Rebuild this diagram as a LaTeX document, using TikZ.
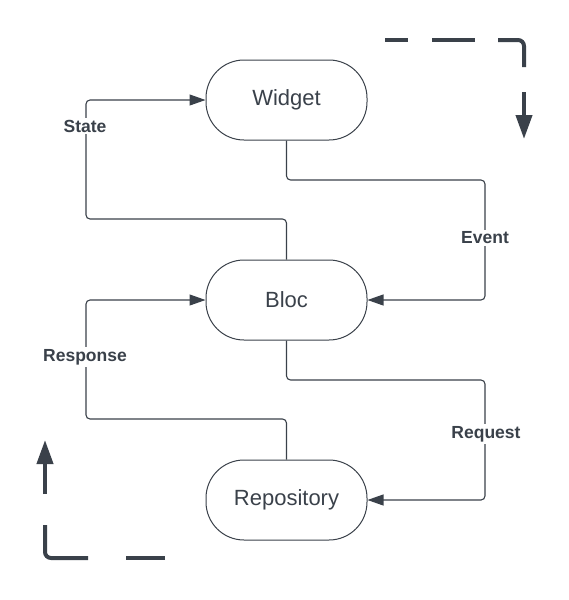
\documentclass[tikz,border=0pt]{standalone}
\usepackage{fontspec}
\setmainfont{Liberation Sans}
\usetikzlibrary{arrows.meta}
\definecolor{ink}{HTML}{3A414A}
\begin{document}
\begin{tikzpicture}[x=1pt,y=-1pt,
  box/.style={draw=ink, line width=1pt, rounded corners=38pt, minimum width=161pt, minimum height=80pt, text=ink, font=\fontsize{22}{26}\selectfont, inner sep=0pt},
  link/.style={draw=ink, line width=1.1pt, rounded corners=4pt, -{Triangle[length=16pt,width=11pt]}},
  lbl/.style={fill=white, text=ink, font=\bfseries\fontsize{17.5}{21}\selectfont, inner sep=2pt},
  deco/.style={draw=ink, line width=4pt},
  decoarrow/.style={deco, -{Triangle[length=24pt,width=16pt]}},
]
\useasboundingbox (0,0) rectangle (569,600);

\node[box] (w) at (286.5,100) {Widget};
\node[box] (b) at (286.5,300) {Bloc};
\node[box] (r) at (286.5,500) {Repository};

\coordinate (s1) at (86,219);
\coordinate (e1) at (485,180);
\coordinate (p1) at (86,419);
\coordinate (q1) at (485,380);

\draw[link] (b.north) |- (s1) |- (w.west);
\draw[link] (w.south) |- (e1) |- (b.east);
\draw[link] (r.north) |- (p1) |- (b.west);
\draw[link] (b.south) |- (q1) |- (r.east);

\node[lbl] (ls) at (85,126) {State};
\node[lbl] (le) at (485,238) {Event};
\node[lbl] (lp) at (85,357) {Response};
\node[lbl] (lq) at (486,434) {Request};

% decorative flow arrows
\draw[deco] (385,40) -- (408,40);
\draw[deco] (432,40) -- (475,40);
\draw[deco, rounded corners=6pt] (498,40) -- (524,40) -- (524,67);
\draw[decoarrow] (524,92) -- (524,139);

\draw[deco] (165,558) -- (126,558);
\draw[deco, rounded corners=6pt] (88,558) -- (45,558) -- (45,525);
\draw[decoarrow] (45,494) -- (45,440);
\end{tikzpicture}
\end{document}
